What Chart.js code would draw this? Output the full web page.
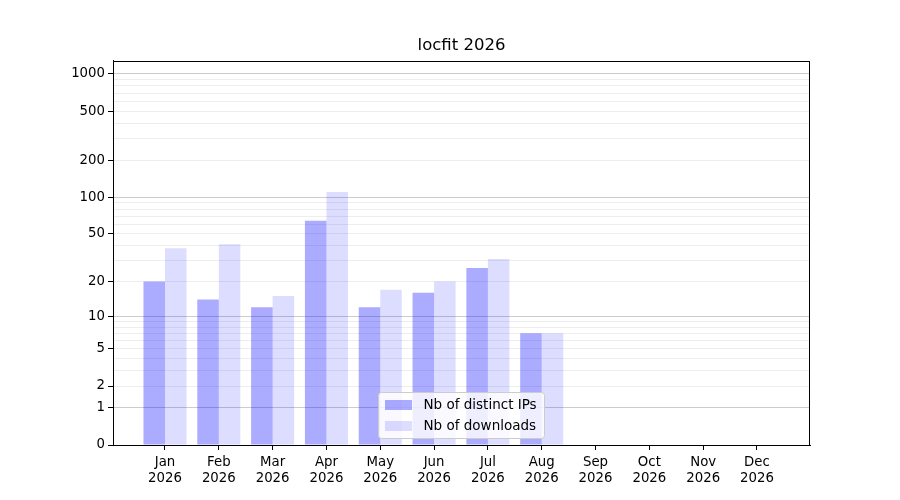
<!DOCTYPE html>
<html>
<head>
<meta charset="utf-8">
<script src="https://cdn.jsdelivr.net/npm/chart.js@4.4.1/dist/chart.umd.min.js"></script>
<style>
  html, body { margin: 0; padding: 0; background: #fff; }
</style>
</head>
<body>
<canvas id="chart" width="900" height="500"></canvas>
<script>
const months = ['Jan', 'Feb', 'Mar', 'Apr', 'May', 'Jun', 'Jul', 'Aug', 'Sep', 'Oct', 'Nov', 'Dec'];
const year = '2026';
const distinctIPs = [20, 14, 12, 64, 12, 16, 26, 7];
const downloads = [38, 41, 15, 110, 17, 20, 31, 7];
const labeledTicks = [0, 1, 2, 5, 10, 20, 50, 100, 200, 500, 1000];
const majorGrid = [1, 10, 100, 1000];

// y axis is log10(1 + v)
const tf = v => Math.log10(1 + v);
const toPoints = arr => arr.map((v, i) => ({ x: i, y: tf(v) }));

// minor grid lines: 2..9 of each decade
const gridValues = [0, 1000];
[1, 10, 100].forEach(d => { for (let k = 1; k < 10; k++) gridValues.push(k * d); });
gridValues.sort((a, b) => a - b);

const font = { family: 'DejaVu Sans', size: 13.3 };

const frame = {
  id: 'frame',
  afterDraw(chart) {
    const { ctx, chartArea: a } = chart;
    ctx.save();
    ctx.strokeStyle = '#000';
    ctx.lineWidth = 1;
    ctx.strokeRect(Math.round(a.left) + 0.5, Math.round(a.top) + 0.5,
      Math.round(a.right - a.left) - 1, Math.round(a.bottom - a.top));
    ctx.restore();
  }
};

const legendBox = {
  id: 'legendBox',
  afterDraw(chart) {
    const { ctx, chartArea } = chart;
    const w = 166, h = 46;
    const x = Math.round(chartArea.left + 265) + 0.5;
    const y = Math.round(chartArea.bottom - 7 - h) + 0.5;
    ctx.save();
    ctx.beginPath();
    ctx.roundRect(x, y, w, h, 3);
    ctx.fillStyle = 'rgba(255,255,255,0.8)';
    ctx.fill();
    ctx.strokeStyle = '#cccccc';
    ctx.lineWidth = 1;
    ctx.stroke();
    ctx.font = '13.5px "DejaVu Sans"';
    ctx.textBaseline = 'middle';
    chart.data.datasets.forEach((ds, i) => {
      const ry = Math.round(y + 7 + i * 21);
      ctx.fillStyle = ds.backgroundColor;
      ctx.fillRect(Math.round(x + 6), ry, 27, 10);
      ctx.fillStyle = '#000';
      ctx.fillText(ds.label, x + 45, ry + 5);
    });
    ctx.restore();
  }
};

new Chart(document.getElementById('chart'), {
  type: 'bar',
  data: {
    datasets: [
      {
        label: 'Nb of distinct IPs',
        data: toPoints(distinctIPs),
        backgroundColor: 'rgba(0,0,255,0.33)',
        borderWidth: 0,
        categoryPercentage: 0.8,
        barPercentage: 1.0
      },
      {
        label: 'Nb of downloads',
        data: toPoints(downloads),
        backgroundColor: 'rgba(0,0,255,0.135)',
        borderWidth: 0,
        categoryPercentage: 0.8,
        barPercentage: 1.0
      }
    ]
  },
  options: {
    responsive: false,
    animation: false,
    layout: { padding: { left: 0, right: 90, top: 0, bottom: 0 } },
    plugins: {
      legend: { display: false },
      tooltip: { enabled: false },
      title: {
        display: true,
        fullSize: false,
        text: 'locfit 2026',
        color: '#000',
        font: { family: 'DejaVu Sans', size: 16.5, weight: 'normal' },
        padding: { top: 36, bottom: 5 }
      }
    },
    scales: {
      x: {
        type: 'linear',
        min: -0.966,
        max: 11.985,
        offset: false,
        grid: { offset: false, drawOnChartArea: false, drawTicks: true, tickLength: 5, tickColor: '#000' },
        border: { color: '#000', width: 1 },
        ticks: {
          autoSkip: false,
          maxRotation: 0,
          padding: 5,
          color: '#000',
          font: { ...font, lineHeight: 1.17 },
          callback: v => [months[v], year]
        },
        afterBuildTicks: s => { s.ticks = months.map((m, i) => ({ value: i })); },
        afterFit: s => { s.height = 55; }
      },
      y: {
        type: 'linear',
        min: 0,
        max: 3.107,
        grid: {
          drawTicks: true,
          tickLength: 5,
          color: c => {
            const v = gridValues[c.index];
            if (v === 0) return 'rgba(0,0,0,0)';
            return majorGrid.includes(v) ? 'rgba(0,0,0,0.2)' : 'rgba(0,0,0,0.07)';
          },
          tickColor: c => labeledTicks.includes(gridValues[c.index]) ? '#000' : 'rgba(0,0,0,0)'
        },
        border: { color: '#000', width: 1 },
        ticks: {
          autoSkip: false,
          padding: 3,
          color: '#000',
          font,
          callback: (v, i) => labeledTicks.includes(gridValues[i]) ? String(gridValues[i]) : ''
        },
        afterBuildTicks: s => { s.ticks = gridValues.map(v => ({ value: tf(v) })); },
        afterFit: s => { s.width = 113; }
      }
    }
  },
  plugins: [frame, legendBox]
});
</script>
</body>
</html>
